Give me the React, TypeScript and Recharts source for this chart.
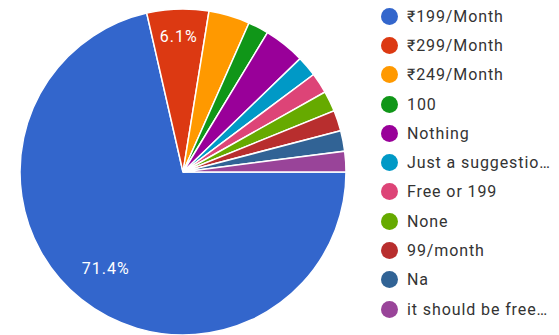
import { PieChart, Pie, Cell } from "recharts";

const CATEGORIES = [
  "₹199/Month",
  "₹299/Month",
  "₹249/Month",
  "100",
  "Nothing",
  "Just a suggestio…",
  "Free or 199",
  "None",
  "99/month",
  "Na",
  "it should be free…",
];

const COUNTS = [35, 3, 2, 1, 2, 1, 1, 1, 1, 1, 1];

const COLORS = [
  "#3366cc",
  "#dc3912",
  "#ff9900",
  "#109618",
  "#990099",
  "#0099c6",
  "#dd4477",
  "#66aa00",
  "#b82e2e",
  "#316395",
  "#994499",
];

const data = CATEGORIES.map((name, i) => ({ name, value: COUNTS[i] }));

const RAD = Math.PI / 180;

const renderLabel = (props: any) => {
  const { cx, cy, midAngle, outerRadius, percent } = props;
  if (percent < 0.05) return null;
  const r = outerRadius * (percent > 0.5 ? 0.76 : 0.83);
  const x = cx + r * Math.cos(-midAngle * RAD);
  const y = cy + r * Math.sin(-midAngle * RAD);
  return (
    <text
      x={x}
      y={y}
      fill="#ffffff"
      fontSize={16}
      letterSpacing={1}
      fontFamily="Roboto, sans-serif"
      textAnchor="middle"
      dominantBaseline="central"
    >
      {(percent * 100).toFixed(1)}%
    </text>
  );
};

export default function App() {
  return (
    <div style={{ position: "absolute", left: 0, top: 0, width: 559, height: 335, background: "#fff" }}>
      <PieChart width={559} height={335} margin={{ top: 0, right: 0, bottom: 0, left: 0 }}>
        <Pie
          data={data}
          dataKey="value"
          nameKey="name"
          cx={183}
          cy={172}
          outerRadius={163}
          startAngle={0}
          endAngle={-360}
          stroke="#ffffff"
          strokeWidth={1.5}
          label={renderLabel}
          labelLine={false}
          isAnimationActive={false}
        >
          {data.map((_, i) => (
            <Cell key={i} fill={COLORS[i]} />
          ))}
        </Pie>
      </PieChart>
      <div
        style={{
          position: "absolute",
          left: 381,
          top: 1.5,
          fontFamily: "Roboto, sans-serif",
          fontSize: 16,
          letterSpacing: 0.9,
          color: "#333",
        }}
      >
        {data.map((d, i) => (
          <div
            key={d.name}
            style={{ display: "flex", alignItems: "center", height: 29.3, whiteSpace: "nowrap" }}
          >
            <span
              style={{
                display: "inline-block",
                flex: "none",
                width: 17,
                height: 17,
                borderRadius: "50%",
                background: COLORS[i],
                marginRight: 9,
              }}
            />
            {d.name}
          </div>
        ))}
      </div>
    </div>
  );
}
